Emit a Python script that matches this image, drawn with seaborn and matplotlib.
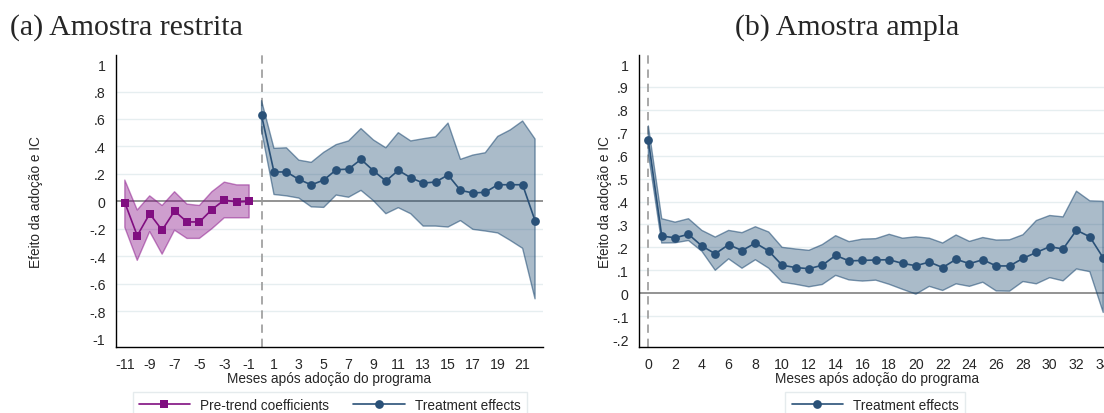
import numpy as np
import pandas as pd
import matplotlib
matplotlib.use("Agg")
import matplotlib.pyplot as plt
from matplotlib.lines import Line2D
import seaborn as sns

# ---------------- data ----------------
pre_months = list(range(-11, 0))
pre_coef = [-0.01, -0.25, -0.09, -0.21, -0.07, -0.15, -0.15, -0.06, 0.01, -0.005, 0.0]
pre_hi = [0.155, -0.063, 0.04, -0.03, 0.07, -0.02, -0.03, 0.07, 0.14, 0.12, 0.12]
pre_lo = [-0.19, -0.43, -0.22, -0.385, -0.21, -0.27, -0.27, -0.20, -0.12, -0.12, -0.12]

a_months = list(range(0, 23))
a_coef = [0.626, 0.214, 0.214, 0.16, 0.12, 0.155, 0.23, 0.235, 0.306, 0.223, 0.148, 0.226,
          0.172, 0.133, 0.141, 0.192, 0.08, 0.061, 0.066, 0.121, 0.121, 0.121, -0.141]
a_hi = [0.733, 0.386, 0.39, 0.30, 0.284, 0.357, 0.413, 0.44, 0.53, 0.447, 0.39, 0.50,
        0.44, 0.456, 0.47, 0.57, 0.306, 0.337, 0.354, 0.473, 0.52, 0.585, 0.454]
a_lo = [0.515, 0.05, 0.04, 0.024, -0.04, -0.044, 0.046, 0.03, 0.08, 0.005, -0.09, -0.046,
        -0.09, -0.18, -0.18, -0.187, -0.14, -0.204, -0.216, -0.23, -0.284, -0.342, -0.71]

b_months = list(range(0, 35))
b_coef = [0.667, 0.249, 0.242, 0.257, 0.206, 0.172, 0.212, 0.186, 0.219, 0.184, 0.122, 0.112,
          0.107, 0.122, 0.165, 0.141, 0.143, 0.145, 0.146, 0.13, 0.12, 0.136, 0.112, 0.148,
          0.129, 0.146, 0.119, 0.119, 0.152, 0.178, 0.203, 0.193, 0.275, 0.246, 0.154]
b_hi = [0.73, 0.325, 0.31, 0.325, 0.274, 0.245, 0.274, 0.264, 0.29, 0.267, 0.2, 0.193,
        0.187, 0.212, 0.251, 0.225, 0.236, 0.238, 0.257, 0.24, 0.246, 0.24, 0.219, 0.254,
        0.226, 0.243, 0.232, 0.233, 0.255, 0.317, 0.339, 0.333, 0.445, 0.403, 0.401]
b_lo = [0.61, 0.219, 0.22, 0.23, 0.183, 0.10, 0.15, 0.109, 0.146, 0.109, 0.048, 0.039,
        0.028, 0.038, 0.078, 0.058, 0.053, 0.057, 0.039, 0.017, -0.004, 0.03, 0.012, 0.041,
        0.03, 0.048, 0.01, 0.009, 0.051, 0.041, 0.068, 0.054, 0.106, 0.094, -0.084]

a_yticks = [-1, -0.8, -0.6, -0.4, -0.2, 0, 0.2, 0.4, 0.6, 0.8, 1]
a_yticklabels = ["-1", "-.8", "-.6", "-.4", "-.2", "0", ".2", ".4", ".6", ".8", "1"]
a_xticks = [-11, -9, -7, -5, -3, -1, 1, 3, 5, 7, 9, 11, 13, 15, 17, 19, 21]
b_yticks = [-0.2, -0.1, 0, 0.1, 0.2, 0.3, 0.4, 0.5, 0.6, 0.7, 0.8, 0.9, 1]
b_yticklabels = ["-.2", "-.1", "0", ".1", ".2", ".3", ".4", ".5", ".6", ".7", ".8", ".9", "1"]
b_xticks = list(range(0, 35, 2))

title_a = "(a) Amostra restrita"
title_b = "(b) Amostra ampla"
xlabel = "Meses após adoção do programa"
ylabel = "Efeito da adoção e IC"
label_pre = "Pre-trend coefficients"
label_treat = "Treatment effects"

# ---------------- style ----------------
sns.set_style("white")
plt.rcParams["font.family"] = ["Liberation Sans", "DejaVu Sans"]
plt.rcParams["font.size"] = 10

FS = 9.8
navy = "#2a5178"
navy_fill = "#1a476f"
purple = "#800e80"
purple_fill = "#800080"
grid_c = "#e6eef0"

W, H = 1104, 414
fig = plt.figure(figsize=(W / 100, H / 100), dpi=100)

def px_axes(l, r, t, b):
    return fig.add_axes([l / W, 1 - b / H, (r - l) / W, (b - t) / H])

ax1 = px_axes(116, 543, 56, 348)
ax2 = px_axes(639, 1115, 56, 348)

df_pre = pd.DataFrame({"m": pre_months, "c": pre_coef, "lo": pre_lo, "hi": pre_hi})
df_a = pd.DataFrame({"m": a_months, "c": a_coef, "lo": a_lo, "hi": a_hi})
df_b = pd.DataFrame({"m": b_months, "c": b_coef, "lo": b_lo, "hi": b_hi})

def style_axes(ax, yticks, ylabels, xticks, ylim, xlim, ylab_x):
    ax.set_xlim(*xlim)
    ax.set_ylim(*ylim)
    for yt in yticks[1:-1]:
        if yt != 0:
            ax.axhline(yt, color=grid_c, lw=1.0, zorder=0)
    ax.axhline(0, color="#8a8a8a", lw=1.3, zorder=1)
    ax.axvline(0, color="#9a9a9a", lw=1.2, ls=(0, (5, 3.5)), zorder=1)
    ax.set_yticks(yticks)
    ax.set_yticklabels(ylabels)
    ax.set_xticks(xticks)
    ax.set_xticklabels([str(x) for x in xticks])
    ax.tick_params(axis="both", direction="out", length=4.5, width=0.8, color="black",
                   labelsize=FS + 0.4, pad=3)
    for s in ["top", "right"]:
        ax.spines[s].set_visible(False)
    for s in ["left", "bottom"]:
        ax.spines[s].set_color("black")
        ax.spines[s].set_linewidth(1.0)
    ax.set_xlabel(xlabel, fontsize=FS)
    ax.set_ylabel(ylabel, fontsize=FS)
    ax.xaxis.set_label_coords(0.5, -0.082)
    ax.yaxis.set_label_coords(ylab_x, 0.5)
    ax.grid(False)

# left panel
ax1.fill_between(df_pre["m"], df_pre["lo"], df_pre["hi"], facecolor=purple_fill, alpha=0.38,
                 edgecolor="none", zorder=2)
ax1.fill_between(df_pre["m"], df_pre["lo"], df_pre["hi"], facecolor="none",
                 edgecolor=(0.5, 0.0, 0.5, 0.45), lw=1.0, zorder=2)
sns.lineplot(data=df_pre, x="m", y="c", ax=ax1, color=purple, marker="s", markersize=5.8,
             markeredgewidth=0, lw=1.2, estimator=None, zorder=4, legend=False)
ax1.fill_between(df_a["m"], df_a["lo"], df_a["hi"], facecolor=navy_fill, alpha=0.37,
                 edgecolor="none", zorder=2)
ax1.fill_between(df_a["m"], df_a["lo"], df_a["hi"], facecolor="none",
                 edgecolor=(0.1, 0.28, 0.44, 0.55), lw=1.0, zorder=2)
sns.lineplot(data=df_a, x="m", y="c", ax=ax1, color=navy, marker="o", markersize=6.3,
             markeredgewidth=0, lw=1.2, estimator=None, zorder=4, legend=False)
style_axes(ax1, a_yticks, a_yticklabels, a_xticks, (-1.061, 1.066), (-11.71, 22.64), -0.172)

# right panel
ax2.fill_between(df_b["m"], df_b["lo"], df_b["hi"], facecolor=navy_fill, alpha=0.37,
                 edgecolor="none", zorder=2)
ax2.fill_between(df_b["m"], df_b["lo"], df_b["hi"], facecolor="none",
                 edgecolor=(0.1, 0.28, 0.44, 0.55), lw=1.0, zorder=2)
sns.lineplot(data=df_b, x="m", y="c", ax=ax2, color=navy, marker="o", markersize=6.3,
             markeredgewidth=0, lw=1.2, estimator=None, zorder=4, legend=False)
style_axes(ax2, b_yticks, b_yticklabels, b_xticks, (-0.2347, 1.0393), (-0.70, 34.88), -0.056)

# legends
h_pre = Line2D([], [], color=purple, marker="s", markersize=5.8, markeredgewidth=0, lw=1.2)
h_tr = Line2D([], [], color=navy, marker="o", markersize=6.3, markeredgewidth=0, lw=1.2)
leg_kw = dict(loc="upper center", frameon=True, fancybox=False, fontsize=FS,
              handlelength=3.8, handletextpad=0.7, columnspacing=1.8, borderpad=0.45,
              borderaxespad=0.0, edgecolor="#dfe6e9", numpoints=1)
leg1 = fig.legend([h_pre, h_tr], [label_pre, label_treat], ncol=2,
                  bbox_to_anchor=(329.5 / W, 1 - 393 / H), **leg_kw)
leg1.get_frame().set_linewidth(1.0)
leg2 = fig.legend([h_tr], [label_treat], ncol=1,
                  bbox_to_anchor=(875 / W, 1 - 393 / H), **leg_kw)
leg2.get_frame().set_linewidth(1.0)

# titles
fig.text(10 / W, 1 - 35 / H, title_a, fontsize=21.5, family=["Liberation Serif", "DejaVu Serif"],
         ha="left", va="baseline")
fig.text(735 / W, 1 - 35 / H, title_b, fontsize=21.5, family=["Liberation Serif", "DejaVu Serif"],
         ha="left", va="baseline")

fig.savefig("out.png", dpi=100, facecolor="white")
